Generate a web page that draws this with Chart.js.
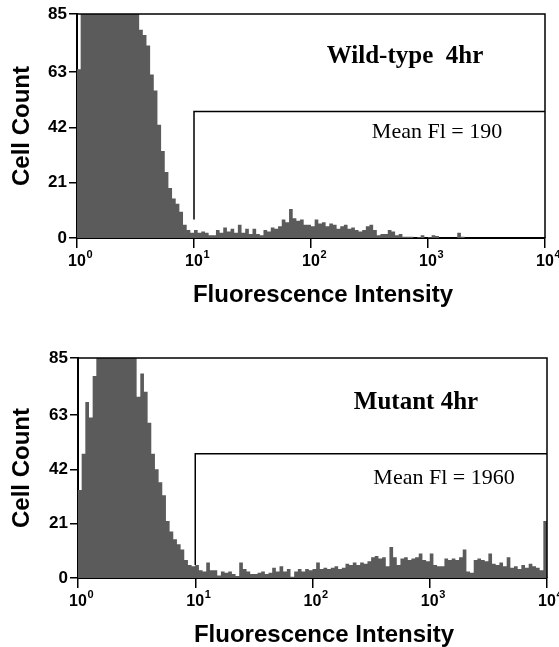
<!DOCTYPE html>
<html>
<head>
<meta charset="utf-8">
<script src="https://cdn.jsdelivr.net/npm/chart.js@4.4.1/dist/chart.umd.min.js"></script>
<style>
  html, body { margin: 0; padding: 0; background: #fff; }
  #wrap { position: relative; width: 559px; height: 647px; }
  canvas { position: absolute; left: 0; }
  #topChart { top: 0; }
  #bottomChart { top: 320px; }
</style>
</head>
<body>
<div id="wrap">
  <canvas id="topChart" width="559" height="320"></canvas>
  <canvas id="bottomChart" width="559" height="327"></canvas>
</div>
<script>
// histogram channels, 32 per decade from 10^0 to 10^4
var binsPerDecade = 32;
var xTickExps = [0, 1, 2, 3, 4];
var yTicks = [0, 21, 42, 63, 85];
var xTitle = "Fluorescence Intensity";
var yTitle = "Cell Count";

// cell counts per channel (85 = off scale)
var wildCounts = [
  64, 85, 85, 85, 85, 85, 85, 85, 85, 85, 85, 85, 85, 85, 85, 85,
  85, 79, 77, 73, 62, 56, 43, 33, 25, 19, 15, 13, 10, 5, 3, 2,
  3, 2, 2.5, 2, 1, 1, 3, 2, 4, 2.5, 3.5, 2, 5, 2, 3.5, 1.5,
  3.5, 1.5, 1, 3, 2.5, 4, 3.5, 4.5, 7, 6, 11, 7.5, 6.5, 7, 5, 5,
  4.5, 7, 5.5, 6, 4.5, 5.5, 5, 3.5, 4.5, 5, 3.5, 4, 3, 2.5, 3, 4.5,
  5, 3, 1, 1.5, 1.5, 3, 2.5, 1, 1.5, 0.5, 0.5, 0.5, 0, 0.3, 1, 0,
  0.3, 1, 0.8, 0, 0, 0, 0, 0, 2, 0.5, 0, 0, 0, 0, 0, 0,
  0, 0, 0, 0, 0, 0, 0, 0, 0, 0, 0, 0, 0, 0, 0, 0
];
var mutantCounts = [
  34, 48, 68, 62, 78, 85, 85, 85, 85, 85, 85, 85, 85, 85, 85, 85,
  70, 79, 72, 60, 48, 42, 37, 32, 22, 18, 15, 13, 11, 7, 5, 4.5,
  5, 3, 2.5, 6, 3, 3, 1, 2.5, 2, 2.5, 1.5, 0.8, 6, 3.5, 2.5, 1.5,
  1.5, 2, 2.5, 1.5, 2, 4, 2.5, 4.5, 2.5, 3.5, 0.5, 2.5, 3.5, 2.5, 3.5, 3,
  3.5, 6, 3.5, 4, 3.5, 4, 4.5, 3.5, 4, 5.5, 5, 6, 5, 6, 5.5, 6.5,
  8, 8.5, 7.5, 8, 4.5, 12, 8, 5, 7.5, 8, 7, 7.5, 8, 9.5, 7, 6.5,
  9.5, 5, 4.5, 4.5, 7.5, 7, 7.5, 7, 8, 11, 2.5, 2, 7, 7.5, 7, 6.5,
  9.5, 5.5, 5, 6, 4.5, 8, 4, 4.5, 3.5, 5, 4, 5.5, 4.5, 4, 3, 22
];

// marker gate drawn from 10^1 to 10^4
var wildGateX = [10, 10, 10000];
var wildGateY = [7, 48, 48];
var mutantGateX = [10, 10, 10000];
var mutantGateY = [5, 48, 48];

var sansFont = '"Liberation Sans", Arial, sans-serif';
var serifFont = '"Liberation Serif", "Times New Roman", serif';

// turn channel counts into step points on the log axis
function histPoints(counts) {
  var pts = [];
  for (var i = 0; i < counts.length; i++) {
    pts.push({ x: Math.pow(10, i / binsPerDecade), y: counts[i] });
  }
  pts.push({ x: Math.pow(10, counts.length / binsPerDecade), y: counts[counts.length - 1] });
  return pts;
}

function gatePoints(xs, ys) {
  var pts = [];
  for (var i = 0; i < xs.length; i++) {
    pts.push({ x: xs[i], y: ys[i] });
  }
  return pts;
}

// frame edges, superscript tick labels, axis titles and the sample texts
var flowDecor = {
  id: "flowDecor",
  afterDraw: function (chart, args, opts) {
    var ctx = chart.ctx;
    var area = chart.chartArea;
    var xScale = chart.scales.x;
    ctx.save();
    ctx.strokeStyle = "#000";
    ctx.lineWidth = 1.5;
    ctx.beginPath();
    ctx.moveTo(area.left, area.top);
    ctx.lineTo(area.right, area.top);
    ctx.lineTo(area.right, area.bottom);
    ctx.stroke();

    ctx.fillStyle = "#000";
    ctx.textBaseline = "alphabetic";
    for (var i = 0; i < xTickExps.length; i++) {
      var px = xScale.getPixelForValue(Math.pow(10, xTickExps[i]));
      ctx.font = "bold 16px " + sansFont;
      ctx.textAlign = "center";
      var w = ctx.measureText("10").width;
      ctx.fillText("10", px, area.bottom + 28);
      ctx.font = "bold 11px " + sansFont;
      ctx.textAlign = "left";
      ctx.fillText(String(xTickExps[i]), px + w / 2 + 0.5, area.bottom + 20);
    }

    ctx.font = "bold 24px " + sansFont;
    ctx.textAlign = "center";
    ctx.fillText(xTitle, area.left + 246, area.bottom + 64);
    ctx.save();
    ctx.translate(22, (area.top + area.bottom) / 2);
    ctx.rotate(-Math.PI / 2);
    ctx.textBaseline = "middle";
    ctx.fillText(yTitle, 0, 0);
    ctx.restore();

    ctx.font = "bold 25px " + serifFont;
    ctx.fillText(opts.label, area.left + opts.labelX, area.top + opts.labelY);
    ctx.font = "22px " + serifFont;
    ctx.fillText(opts.mean, area.left + opts.meanX, area.top + opts.meanY);
    ctx.restore();
  }
};

function makeChart(id, counts, gateX, gateY, yWidth, xHeight, pad, decor) {
  var ctx = document.getElementById(id).getContext("2d");
  return new Chart(ctx, {
    type: "line",
    data: {
      datasets: [
        {
          label: "gate",
          data: gatePoints(gateX, gateY),
          borderColor: "#000",
          borderWidth: 1.5,
          pointRadius: 0,
          fill: false,
        },
        {
          label: "counts",
          data: histPoints(counts),
          stepped: true,
          borderWidth: 0,
          borderColor: "#5b5b5b",
          backgroundColor: "#5b5b5b",
          pointRadius: 0,
          fill: "origin",
        },
      ],
    },
    options: {
      responsive: false,
      animation: false,
      layout: { padding: pad },
      plugins: {
        legend: { display: false },
        tooltip: { enabled: false },
        flowDecor: decor,
      },
      scales: {
        x: {
          type: "logarithmic",
          min: 1,
          max: 10000,
          afterBuildTicks: function (scale) {
            scale.ticks = xTickExps.map(function (e) { return { value: Math.pow(10, e) }; });
          },
          afterFit: function (scale) { scale.height = xHeight; },
          ticks: { display: false },
          grid: { drawOnChartArea: false, tickLength: 10, color: "#000", lineWidth: 1.5 },
          border: { color: "#000", width: 2 },
        },
        y: {
          min: 0,
          max: 85,
          afterBuildTicks: function (scale) {
            scale.ticks = yTicks.map(function (v) { return { value: v }; });
          },
          afterFit: function (scale) { scale.width = yWidth; },
          ticks: { color: "#000", padding: 2, font: { family: sansFont, size: 17, weight: "bold" } },
          grid: { drawOnChartArea: false, tickLength: 8, color: "#000", lineWidth: 1.5 },
          border: { color: "#000", width: 2 },
        },
      },
    },
    plugins: [flowDecor],
  });
}

makeChart("topChart", wildCounts, wildGateX, wildGateY, 77, 82,
  { left: 0, right: 14, top: 14, bottom: 0 },
  { label: "Wild-type  4hr", labelX: 328, labelY: 49, mean: "Mean Fl = 190", meanX: 360, meanY: 124 });

makeChart("bottomChart", mutantCounts, mutantGateX, mutantGateY, 78, 69,
  { left: 0, right: 12, top: 38, bottom: 0 },
  { label: "Mutant 4hr", labelX: 338, labelY: 51, mean: "Mean Fl = 1960", meanX: 366, meanY: 126 });
</script>
</body>
</html>
